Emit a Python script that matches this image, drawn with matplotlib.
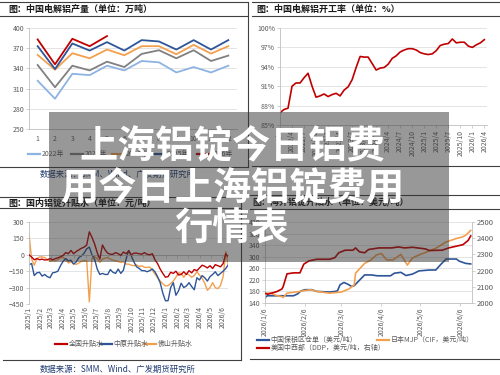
import matplotlib
matplotlib.use('Agg')
import matplotlib.pyplot as plt
import matplotlib.dates as mdates
import matplotlib.transforms as mtransforms
from matplotlib.lines import Line2D
from matplotlib.patches import Rectangle
import pandas as pd

plt.rcParams['font.family'] = ['Noto Sans CJK SC', 'DejaVu Sans']

# ---------------- data: China primary aluminium output (10k t) ----------------
months = list(range(1, 13))
prod_years = ['2022年', '2023年', '2024年', '2025年', '2026年']
prod_2022 = [321.6, 295, 332, 330, 344, 337, 351, 349, 334, 342, 334, 344]
prod_2023 = [345, 312, 344, 337, 350, 342, 361.5, 367, 355, 367, 351, 359]
prod_2024 = [360, 338, 362.5, 355, 368, 359.5, 373, 373, 361, 375, 362, 373]
prod_2025 = [373, 339, 377, 366.5, 379, 366.5, 382, 380, 368, 382, 368, 382]
prod_2026 = [383, 346, 384, 373, 388]
prod_ticks = [250, 280, 310, 340, 370, 400]

# ---------------- data: China primary aluminium operating rate (%) ----------------
util_start = '2022-01-01'
util_rate = [86.9, 87.4, 87.6, 91.0, 91.5, 91.5, 92.3, 93.0, 91.0, 89.3,
             89.5, 89.8, 89.4, 89.7, 89.9, 89.5, 90.4, 90.9, 92.0, 93.9,
             95.6, 95.5, 95.5, 94.5, 93.5, 93.8, 93.9, 94.4, 95.3, 95.7,
             96.3, 96.6, 96.8, 96.8, 96.6, 96.2, 96.0, 95.9, 96.0, 96.5,
             97.3, 97.5, 97.6, 98.3, 97.7, 97.8, 97.8, 97.2, 97.0, 97.4,
             97.7, 98.2]
util_ticks = [85, 88, 91, 94, 97, 100]

# ---------------- data: domestic ingot premium (yuan/t), weekly ----------------
dom_start = '2025-01-01'
dom_national = [0, -20, -45, -35, -45, -40, -48, -45, -35, -45,
                -35, -28, -18, -5, 20, 10, 40, 10, 30, 45,
                60, 70, 90, 210, 160, 100, 20, -40, 90, 45,
                15, 5, 5, 20, 10, -5, 25, 10, 35, 0,
                15, 15, 10, 5, 20, 5, 0, 10, -45, -80,
                -130, -170, -205, -200, -160, -170, -150, -185, -180, -155,
                -180, -145, -165, -135, -145, -120, -95, -105, -120, -100,
                -125, -90, -100, -110, -80, 10, -20]
dom_zhongyuan = [-90, -80, -190, -165, -160, -195, -180, -200, -210, -165,
                 -160, -150, -100, -60, -35, -55, -50, -85, -65, -25,
                 -10, 15, 55, 70, 0, -40, -130, -180, -170, -180,
                 -180, -135, -160, -170, -130, -170, -140, -40, 40, -10,
                 -65, -110, -125, -145, -145, -155, -145, -130, -155, -200,
                 -255, -350, -420, -420, -300, -255, -370, -330, -260, -300,
                 -285, -255, -290, -320, -210, -230, -190, -210, -240, -200,
                 -180, -155, -190, -170, -150, -125, -90]
dom_foshan = [190, -40, -95, -35, -20, -20, -25, -45, -60, -50,
              -55, -45, -25, -25, -40, -75, -65, -80, -88, -75,
              -60, -55, -55, -430, -35, -15, -35, -70, -40, -30,
              -25, -40, -50, -55, -62, -70, -65, -85, -85, -95,
              -100, -92, -108, -100, -115, -115, -112, -140, -175, -210,
              -240, -265, -285, -282, -262, -240, -205, -165, -170, -205,
              -170, -185, -205, -190, -155, -185, -215, -260, -325, -300,
              -255, -300, -310, -280, -200, 30, -90]
dom_names = ['全国升贴水', '中原升贴水', '佛山升贴水']
dom_ticks = [-450, -300, -150, 0, 150, 300]

# ---------------- data: overseas ingot premium ----------------
bond_dates = ['2026-01-06', '2026-01-07', '2026-01-08', '2026-01-28', '2026-01-31', '2026-02-03',
              '2026-02-06', '2026-02-11', '2026-02-15', '2026-02-25', '2026-03-01', '2026-03-03',
              '2026-03-05', '2026-03-08', '2026-03-11', '2026-03-14', '2026-03-16', '2026-03-19',
              '2026-03-24', '2026-03-29', '2026-04-03', '2026-04-13', '2026-04-16', '2026-04-21',
              '2026-04-25', '2026-04-30', '2026-05-05', '2026-05-13', '2026-05-18', '2026-05-22',
              '2026-05-26', '2026-06-03', '2026-06-05', '2026-06-10', '2026-06-14']
bond_vals = [157, 163, 165, 165, 171, 182, 186, 186, 180, 178, 180, 182,
             203, 211, 205, 197, 200, 214, 237, 237, 234, 234, 243, 246,
             235, 240, 251, 254, 254, 274, 292, 292, 285, 277, 275]
mjp_dates = ['2026-01-06', '2026-01-10', '2026-01-15', '2026-01-19', '2026-01-20', '2026-01-23',
             '2026-02-02', '2026-02-10', '2026-02-15', '2026-02-25', '2026-03-06', '2026-03-12',
             '2026-03-16', '2026-03-17', '2026-03-24', '2026-03-29', '2026-04-02', '2026-04-06',
             '2026-04-10', '2026-04-15', '2026-04-21', '2026-04-26', '2026-04-30', '2026-05-05',
             '2026-05-18', '2026-05-26', '2026-06-03', '2026-06-08', '2026-06-10', '2026-06-14']
mjp_vals = [174, 174, 166, 162, 159, 174, 180, 186, 180, 174, 178, 189,
            203, 243, 277, 289, 306, 311, 289, 289, 308, 271, 296, 306,
            329, 351, 363, 369, 374, 391]
ddp_dates = ['2026-01-06', '2026-01-08', '2026-01-15', '2026-01-19', '2026-01-20', '2026-01-23',
             '2026-01-28', '2026-02-02', '2026-02-05', '2026-02-09', '2026-02-15', '2026-02-25',
             '2026-03-01', '2026-03-04', '2026-03-09', '2026-03-15', '2026-03-17', '2026-03-20',
             '2026-03-24', '2026-03-27', '2026-04-04', '2026-04-14', '2026-04-19', '2026-04-24',
             '2026-04-30', '2026-05-10', '2026-05-13', '2026-05-23', '2026-05-28', '2026-06-08',
             '2026-06-12', '2026-06-14']
ddp_vals = [2060, 2054, 2070, 2086, 2100, 2180, 2186, 2186, 2240, 2260, 2270, 2270,
            2280, 2310, 2326, 2326, 2340, 2316, 2310, 2330, 2340, 2340, 2346, 2340,
            2344, 2334, 2324, 2326, 2340, 2360, 2386, 2414]
ovs_names = ['中国保税区仓单（美元/吨）', '日本MJP（CIF，美元/吨）', '美国中西部（DDP，美元/吨，右轴）']
ovs_left_ticks = [140, 180, 220, 260, 300, 340, 380, 420]
ovs_right_ticks = [2000, 2100, 2200, 2300, 2400, 2500]
ovs_tick_dates = ['2026-01-06', '2026-02-06', '2026-03-06', '2026-04-06', '2026-05-06', '2026-06-06']

titles = ['图：中国电解铝产量（单位：万吨）', '图：中国电解铝开工率（单位：%）',
          '图：国内铝锭升贴水（单位：元/吨）', '图：海外铝锭升贴水（单位：美元/吨）']
source = '数据来源：SMM、Wind、广发期货研究所'
headline = ['上海铝锭今日铝费', '用今日上海铝锭费用', '行情表']

# ---------------- styling ----------------
W, H = 500, 375
TICK = '#595959'
GRID = '#d9d9d9'
AXC = '#bfbfbf'
RED = '#C00000'
NAVY = '#2E5597'
ORANGE = '#F3A04E'
FS = 5

fig = plt.figure(figsize=(5, 3.75), dpi=100)
fig.patch.set_facecolor('white')


def ax_px(x0, y0, x1, y1):
    return fig.add_axes([x0 / W, 1 - y1 / H, (x1 - x0) / W, (y1 - y0) / H])


def hline(x0, x1, y, color='#404040', lw=0.8):
    fig.add_artist(Line2D([x0 / W, x1 / W], [1 - y / H, 1 - y / H],
                          transform=fig.transFigure, color=color, lw=lw))


def vline(x, y0, y1, color='#404040', lw=0.8):
    fig.add_artist(Line2D([x / W, x / W], [1 - y0 / H, 1 - y1 / H],
                          transform=fig.transFigure, color=color, lw=lw))


def ftext(x, y, s, **kw):
    return fig.text(x / W, 1 - y / H, s, **kw)


def legend_item(x, y, color, label, length=12):
    fig.add_artist(Line2D([x / W, (x + length) / W], [1 - y / H, 1 - y / H],
                          transform=fig.transFigure, color=color, lw=1.6))
    ftext(x + length + 1.5, y, label, fontsize=FS, color=TICK, va='center', ha='left')


def style(ax):
    for s in ['top', 'right']:
        ax.spines[s].set_visible(False)
    for s in ['left', 'bottom']:
        ax.spines[s].set_color(AXC)
        ax.spines[s].set_linewidth(0.6)
    ax.tick_params(labelsize=FS, colors=TICK, length=2, width=0.5, pad=1.5)
    ax.tick_params(axis='both', color=AXC)
    ax.grid(axis='y', color=GRID, lw=0.5)
    ax.set_axisbelow(True)
    ax.set_facecolor('none')


# ---------------- panel frames ----------------
hline(0, 248, 2)
hline(0, 248, 16)
hline(0, 248, 167)
vline(248, 2, 167)
hline(252, 500, 2)
hline(252, 500, 16)
hline(252, 500, 166)
hline(0, 241, 197)
hline(0, 241, 208)
hline(3, 241, 360)
vline(241, 197, 360)
hline(250, 500, 195)
hline(250, 500, 209)
hline(250, 500, 359)

title_kw = dict(fontsize=6.5, fontweight='bold', color='#1a1a1a', va='center', ha='left')
ftext(8, 9.5, titles[0], **title_kw)
ftext(256, 9.5, titles[1], **title_kw)
ftext(8, 202.5, titles[2], **title_kw)
ftext(252, 202, titles[3], **title_kw)

src_kw = dict(fontsize=6, color='#1F3B73', va='center', ha='left')
ftext(40, 174, source, **src_kw)
ftext(40, 369, source, **src_kw)

# ---------------- top-left: production ----------------
ax1 = ax_px(29, 28, 237, 129)
style(ax1)
prod_colors = ['#8DB3E2', '#808080', '#F3A04E', '#2E5597', '#C00000']
for vals, c in zip([prod_2022, prod_2023, prod_2024, prod_2025, prod_2026], prod_colors):
    ax1.plot(months[:len(vals)], vals, color=c, lw=1.3)
ax1.set_xlim(0.5, 12.5)
ax1.set_ylim(250, 400)
ax1.set_yticks(prod_ticks)
ax1.set_xticks(months)
ax1.tick_params(axis='x', length=0, pad=4)
for x0, lab, c in zip([28, 71, 112, 153, 197], prod_years, prod_colors):
    legend_item(x0, 154, c, lab)

# ---------------- top-right: operating rate ----------------
ax2 = ax_px(280, 28, 487, 125)
style(ax2)
util_idx = list(range(len(util_rate)))
ax2.plot(util_idx, util_rate, color=RED, lw=1.2)
ax2.set_xlim(0, 51.66)
ax2.set_ylim(85, 100)
ax2.set_yticks(util_ticks)
ax2.set_yticklabels([f'{v}%' for v in util_ticks])
util_months = pd.date_range(util_start, periods=len(util_rate), freq='MS')
tick_pos = util_idx[::3]
ax2.set_xticks(tick_pos)
ax2.set_xticklabels([f'{util_months[i].year}/{util_months[i].month}' for i in tick_pos],
                    rotation=90)

# ---------------- bottom-left: domestic premium ----------------
ax3 = ax_px(29, 222, 228, 304)
style(ax3)
dom_dates = pd.date_range(dom_start, periods=len(dom_national), freq='7D')
ax3.plot(dom_dates, dom_national, color=RED, lw=1.0, zorder=3)
ax3.plot(dom_dates, dom_zhongyuan, color=NAVY, lw=1.0, zorder=2)
ax3.plot(dom_dates, dom_foshan, color=ORANGE, lw=1.0, zorder=1)
ax3.set_ylim(-450, 300)
ax3.set_yticks(dom_ticks)
ax3.set_xlim(pd.Timestamp('2025-01-01'), pd.Timestamp('2026-06-16'))
dom_tick_dates = pd.date_range('2025-01-01', '2026-06-01', freq='MS')
ax3.set_xticks(dom_tick_dates)
ax3.spines['bottom'].set_position(('data', 0))
ax3.tick_params(axis='x', labelbottom=False, length=2)
trans = mtransforms.blended_transform_factory(ax3.transData, ax3.transAxes)
for d in dom_tick_dates:
    ax3.text(mdates.date2num(d), -0.03, f'{d.year}/{d.month}', transform=trans,
             rotation=90, ha='center', va='top', fontsize=FS, color=TICK)
for x0, lab, c in zip([55, 100, 144], dom_names, [RED, NAVY, ORANGE]):
    legend_item(x0, 344, c, lab)

# ---------------- bottom-right: overseas premium ----------------
ax4 = ax_px(265, 222, 472, 303)
style(ax4)
ax4.plot(pd.to_datetime(bond_dates), bond_vals, color=NAVY, lw=1.2)
ax4.plot(pd.to_datetime(mjp_dates), mjp_vals, color=ORANGE, lw=1.2)
ax4.set_ylim(140, 420)
ax4.set_yticks(ovs_left_ticks)
ax4.set_xticks(pd.to_datetime(ovs_tick_dates))
ax4.set_xticklabels([f'{d.year}/{d.month}/{d.day}' for d in pd.to_datetime(ovs_tick_dates)],
                    rotation=90)
ax4r = ax4.twinx()
ax4r.plot(pd.to_datetime(ddp_dates), ddp_vals, color=RED, lw=1.2)
ax4r.set_ylim(2000, 2500)
ax4r.set_yticks(ovs_right_ticks)
for s in ['top', 'left', 'bottom']:
    ax4r.spines[s].set_visible(False)
ax4r.spines['right'].set_color(AXC)
ax4r.spines['right'].set_linewidth(0.6)
ax4r.tick_params(labelsize=FS + 0.5, colors=TICK, length=2, width=0.5, pad=1.5, color=AXC)
ax4.set_xlim(pd.Timestamp('2026-01-06'), pd.Timestamp('2026-06-15'))
legend_item(257, 340, NAVY, ovs_names[0])
legend_item(377, 340, ORANGE, ovs_names[1])
legend_item(257, 348, RED, ovs_names[2])

# ---------------- headline overlay ----------------
fig.add_artist(Rectangle((49 / W, 1 - 262 / H), 400 / W, 150 / H, transform=fig.transFigure,
                         facecolor='#333333', alpha=0.5, edgecolor='none', zorder=10))
for yc, line in zip([147, 189, 229], headline):
    ftext(232, yc, line, fontsize=27.5, fontweight='bold', color='white',
          ha='center', va='center', zorder=11)

fig.savefig('out.png', dpi=100)
